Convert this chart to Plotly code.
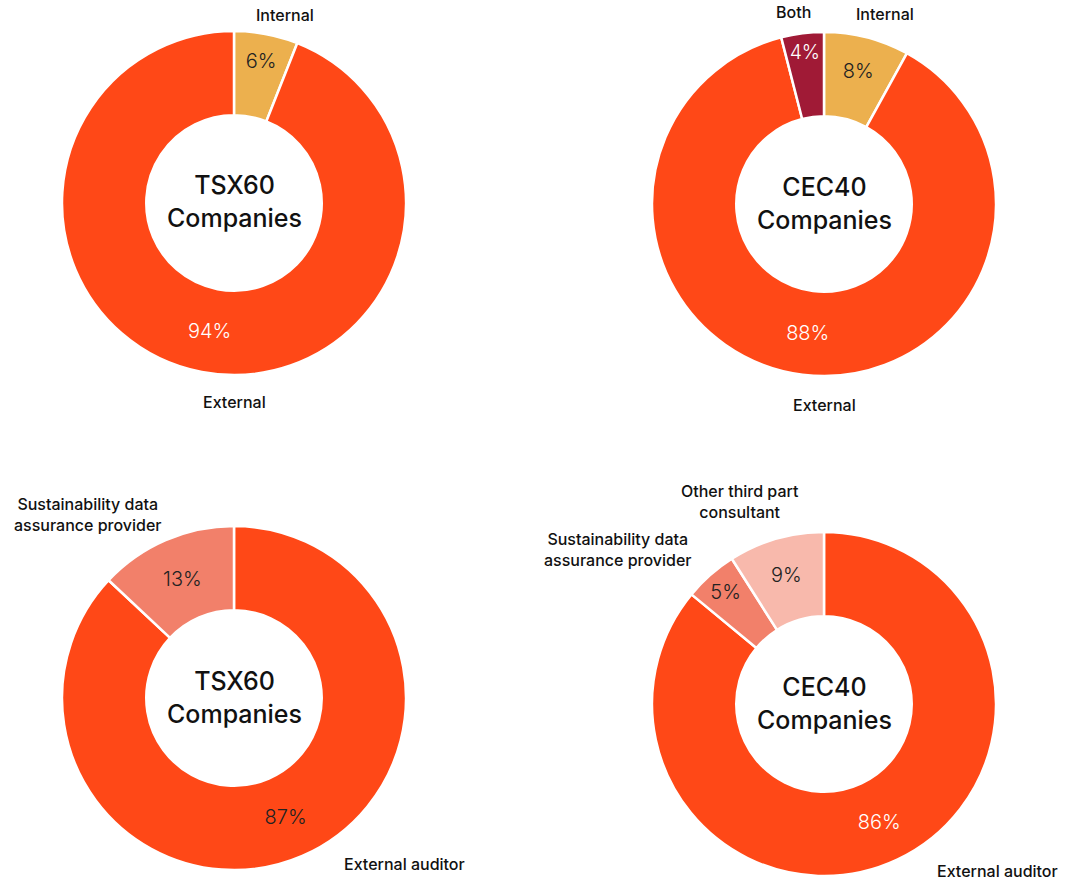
import plotly.graph_objects as go

W, H = 1073, 883

# Data
tl_labels = ["Internal", "External"]
tl_values = [6, 94]
tr_labels = ["Internal", "External", "Both"]
tr_values = [8, 88, 4]
bl_labels = ["External auditor", "Sustainability data assurance provider"]
bl_values = [87, 13]
br_labels = ["External auditor", "Sustainability data assurance provider", "Other third part consultant"]
br_values = [86, 5, 9]
center_titles = ["TSX60<br>Companies", "CEC40<br>Companies", "TSX60<br>Companies", "CEC40<br>Companies"]

RED = "#FF4817"
GOLD = "#ECB04E"
WINE = "#A01A36"
SALMON = "#F2806A"
PINK = "#F8B9AC"

color_map = {
    "Internal": GOLD, "External": RED, "Both": WINE,
    "External auditor": RED, "Sustainability data assurance provider": SALMON,
    "Other third part consultant": PINK,
}
text_color_map = {
    "Internal": "#222222", "External": "#FFFFFF", "Both": "#FFFFFF",
    "External auditor": "#222222", "Sustainability data assurance provider": "#222222",
    "Other third part consultant": "#222222",
}

# pie centers (px) and radius
R = 172
centers = [(234, 203), (824, 204), (234, 698), (824, 704)]
datasets = [(tl_labels, tl_values), (tr_labels, tr_values), (bl_labels, bl_values), (br_labels, br_values)]

FONT = "Inter"
fig = go.Figure()
for i, ((labels, values), (cx, cy)) in enumerate(zip(datasets, centers)):
    tcolors = [text_color_map[l] for l in labels]
    if i == 3:
        tcolors[0] = "#FFFFFF"
    fig.add_trace(go.Pie(
        labels=labels, values=values, sort=False, direction="clockwise", rotation=0,
        hole=0.51,
        marker=dict(colors=[color_map[l] for l in labels], line=dict(color="white", width=2.5)),
        texttemplate="%{value}%", textposition="inside", insidetextorientation="horizontal",
        insidetextfont=dict(family=FONT, size=20, color=tcolors, weight=300),
        showlegend=False, hoverinfo="label+percent",
        domain=dict(x=[(cx - R) / W, (cx + R) / W], y=[1 - (cy + R) / H, 1 - (cy - R) / H]),
    ))
    fig.add_annotation(x=cx / W, y=1 - (cy - 1) / H, xref="paper", yref="paper", text=center_titles[i],
                       xanchor="center", yanchor="middle",
                       showarrow=False, font=dict(family=FONT, size=25, color="#111111", weight=500))

# outside labels (positions in px)
outer_labels = [
    ("Internal", 285, 15), ("External", 234, 402),
    ("Both", 793, 12), ("Internal", 885, 14), ("External", 824, 405),
    ("Sustainability data<br>assurance provider", 88, 514), ("External auditor", 404, 864),
    ("Other third part<br>consultant", 740, 502), ("Sustainability data<br>assurance provider", 618, 549),
    ("External auditor", 997, 871),
]
for txt, x, y in outer_labels:
    fig.add_annotation(x=x / W, y=1 - y / H, xref="paper", yref="paper", text=txt, showarrow=False,
                       xanchor="center", yanchor="middle",
                       font=dict(family=FONT, size=16, color="#111111", weight=500), align="center")

fig.update_layout(width=W, height=H, margin=dict(l=0, r=0, t=0, b=0),
                  paper_bgcolor="white", plot_bgcolor="white")
fig.write_html("out.html", config={"displayModeBar": False},
               post_script="document.body.style.margin='0';")
